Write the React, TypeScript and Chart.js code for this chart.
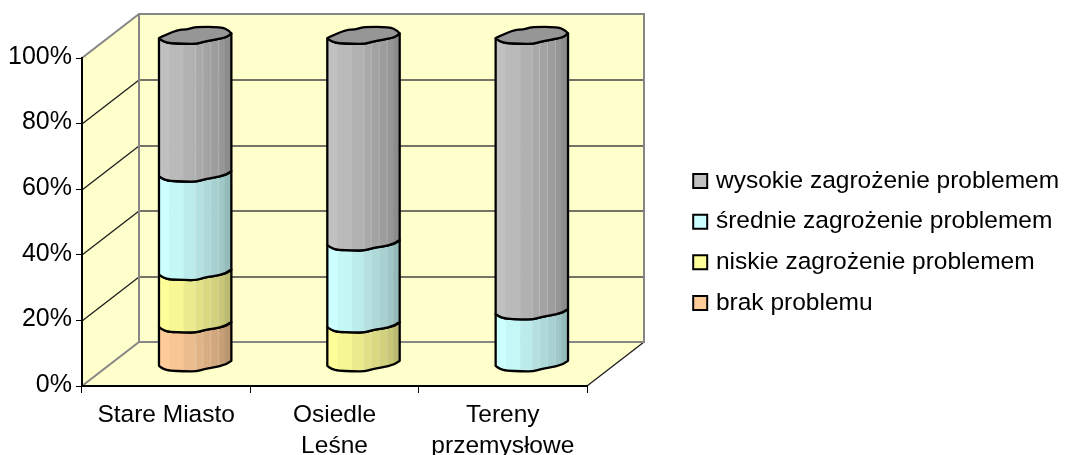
import React, { useEffect, useRef } from "react";
import { Chart, registerables } from "chart.js";

Chart.register(...registerables);

const categories = ["Stare Miasto", ["Osiedle", "Leśne"], ["Tereny", "przemysłowe"]];
const brakProblemu = [12, 0, 0];
const niskie = [16, 12, 0];
const srednie = [30, 25, 16];
const wysokie = [42, 63, 84];

const FONT = "'Liberation Sans', Arial, sans-serif";
const DX = 57;
const DY = -44;
const WALL = "#ffffcc";
const EDGE = "#868686";

// facet layout of the cylinder skin: [end as fraction of the width, brightness]
const FACETS: [number, number][] = [
  [0.14, 1.0], [0.34, 0.97], [0.5, 0.92], [0.6, 0.88],
  [0.71, 0.85], [0.82, 0.82], [0.91, 0.78], [1.0, 0.73],
];
// outline of the cylinder's end, in units of its x radius
const LOWER_ARC: [number, number][] = [
  [-1, 0.064], [-0.88, 0.156], [-0.7, 0.2], [-0.3, 0.215], [0.04, 0.22],
  [0.22, 0.156], [0.5, 0.11], [0.86, 0.037], [1, -0.073],
];
const UPPER_ARC: [number, number][] = [
  [1, -0.073], [0.94, -0.15], [0.72, -0.25], [-0.01, -0.25],
  [-0.24, -0.174], [-0.47, -0.174], [-0.97, 0.037], [-1, 0.064],
];

function trace(ctx: CanvasRenderingContext2D, pts: [number, number][], cx: number, cy: number, rx: number, start: boolean) {
  const P = pts.map(([a, b]) => [cx + a * rx, cy + b * rx]);
  if (start) ctx.moveTo(P[0][0], P[0][1]);
  else ctx.lineTo(P[0][0], P[0][1]);
  for (let i = 1; i < P.length - 1; i++) {
    ctx.quadraticCurveTo(P[i][0], P[i][1], (P[i][0] + P[i + 1][0]) / 2, (P[i][1] + P[i + 1][1]) / 2);
  }
  ctx.lineTo(P[P.length - 1][0], P[P.length - 1][1]);
}

function shade(hex: string, k: number) {
  const n = parseInt(hex.slice(1), 16);
  return `rgb(${Math.round(((n >> 16) & 255) * k)},${Math.round(((n >> 8) & 255) * k)},${Math.round((n & 255) * k)})`;
}

const wallsPlugin = {
  id: "walls",
  beforeDraw(chart: any) {
    const { ctx, chartArea: a, scales } = chart;
    const y = scales.y;
    ctx.save();
    ctx.fillStyle = WALL;
    ctx.beginPath();
    ctx.moveTo(a.left, a.top);
    ctx.lineTo(a.left + DX, a.top + DY);
    ctx.lineTo(a.right + DX, a.top + DY);
    ctx.lineTo(a.right + DX, a.bottom + DY);
    ctx.lineTo(a.right, a.bottom);
    ctx.lineTo(a.left, a.bottom);
    ctx.closePath();
    ctx.fill();

    // grid lines over the side wall and back wall
    ctx.lineWidth = 1.4;
    for (const t of y.ticks) {
      if (t.value === 0 || t.value === 100) continue;
      const py = Math.ceil(y.getPixelForValue(t.value));
      ctx.strokeStyle = "#222222";
      ctx.beginPath();
      ctx.moveTo(a.left, py);
      ctx.lineTo(a.left + DX, py + DY);
      ctx.stroke();
      ctx.strokeStyle = "#444444";
      ctx.beginPath();
      ctx.moveTo(a.left + DX, py + DY);
      ctx.lineTo(a.right + DX, py + DY);
      ctx.stroke();
    }
    // floor's outer edge
    ctx.strokeStyle = "#222222";
    ctx.beginPath();
    ctx.moveTo(a.right + DX, a.bottom + DY);
    ctx.lineTo(a.right, a.bottom);
    ctx.stroke();
    // wall edges
    ctx.strokeStyle = EDGE;
    ctx.lineWidth = 2;
    ctx.beginPath();
    ctx.moveTo(a.left, a.top);
    ctx.lineTo(a.left + DX, a.top + DY);
    ctx.lineTo(a.right + DX, a.top + DY);
    ctx.lineTo(a.right + DX, a.bottom + DY);
    ctx.lineTo(a.left + DX, a.bottom + DY);
    ctx.lineTo(a.left, a.bottom);
    ctx.moveTo(a.left + DX, a.top + DY);
    ctx.lineTo(a.left + DX, a.bottom + DY);
    ctx.stroke();
    ctx.restore();
  },
};

const cylinderPlugin = {
  id: "cylinders",
  beforeDatasetsDraw(chart: any) {
    const { ctx, data } = chart;
    ctx.save();
    ctx.lineJoin = "round";
    ctx.lineCap = "round";
    data.datasets.forEach((ds: any, di: number) => {
      const meta = chart.getDatasetMeta(di);
      meta.data.forEach((bar: any, i: number) => {
        if (!ds.data[i]) return;
        const rx = bar.width / 2;
        const cx = bar.x + DX / 2 + 0.5;
        const topY = bar.y + DY / 2;
        const botY = bar.base + DY / 2;
        const path = () => {
          ctx.beginPath();
          trace(ctx, LOWER_ARC, cx, topY, rx, true);
          const rev = [...LOWER_ARC].reverse();
          trace(ctx, rev, cx, botY, rx, false);
          ctx.closePath();
        };
        ctx.save();
        path();
        ctx.clip();
        let from = 0;
        for (const [to, k] of FACETS) {
          ctx.fillStyle = shade(ds.backgroundColor, k);
          ctx.fillRect(cx - rx + from * bar.width, topY - rx, (to - from) * bar.width + 0.5, botY - topY + 2 * rx);
          if (from >= 0.5 && from <= 0.82) {
            ctx.fillStyle = "rgba(255,255,255,0.22)";
            ctx.fillRect(cx - rx + from * bar.width, topY - rx, 1, botY - topY + 2 * rx);
          }
          from = to;
        }
        ctx.restore();
        ctx.strokeStyle = "#000000";
        ctx.lineWidth = 2.3;
        path();
        ctx.stroke();
        if (Math.abs(bar.y - chart.scales.y.getPixelForValue(100)) < 0.5) {
          ctx.beginPath();
          trace(ctx, LOWER_ARC, cx, topY, rx, true);
          trace(ctx, UPPER_ARC, cx, topY, rx, false);
          ctx.closePath();
          ctx.fillStyle = "#969696";
          ctx.fill();
          ctx.stroke();
        }
      });
    });
    ctx.restore();
    return false;
  },
};

const legendPlacementPlugin = {
  id: "legendPlacement",
  afterLayout(chart: any) {
    const l = chart.legend;
    if (!l) return;
    const w = l.width;
    const h = l.height;
    l.left = 680.5;
    l.right = l.left + w;
    l.top = 152.5;
    l.bottom = l.top + h;
  },
};

export default function App() {
  const ref = useRef<HTMLCanvasElement | null>(null);
  useEffect(() => {
    if (!ref.current) return;
    const chart = new Chart(ref.current, {
      type: "bar",
      data: {
        labels: categories as any,
        datasets: [
          { label: "brak problemu", data: brakProblemu, backgroundColor: "#ffcc99", borderColor: "#000000", borderWidth: 2 },
          { label: "niskie zagrożenie problemem", data: niskie, backgroundColor: "#ffff99", borderColor: "#000000", borderWidth: 2 },
          { label: "średnie zagrożenie problemem", data: srednie, backgroundColor: "#ccffff", borderColor: "#000000", borderWidth: 2 },
          { label: "wysokie zagrożenie problemem", data: wysokie, backgroundColor: "#c0c0c0", borderColor: "#000000", borderWidth: 2 },
        ],
      },
      plugins: [wallsPlugin, cylinderPlugin, legendPlacementPlugin],
      options: {
        animation: false,
        responsive: false,
        devicePixelRatio: 1,
        barPercentage: 1,
        categoryPercentage: 0.43,
        layout: { autoPadding: false, padding: { top: 58, bottom: 0, left: 0, right: 479 } },
        scales: {
          x: {
            stacked: true,
            border: { display: true, color: "#000000", width: 2 },
            grid: { display: true, drawOnChartArea: false, drawTicks: true, tickLength: 7, tickColor: "#000000", tickWidth: 1 },
            ticks: { color: "#000000", maxRotation: 0, autoSkip: false, padding: 7, font: { family: FONT, size: 24.5, lineHeight: 1.25 } },
            afterFit: (s: any) => { s.height = 69; },
          },
          y: {
            stacked: true,
            min: 0,
            max: 100,
            border: { display: true, color: "#000000", width: 2 },
            grid: { display: true, drawOnChartArea: false, drawTicks: true, tickLength: 6, tickColor: "#000000", tickWidth: 1 },
            ticks: { stepSize: 20, color: "#000000", padding: 4, labelOffset: -1, callback: (v: any) => v + "%", font: { family: FONT, size: 25 } },
            afterFit: (s: any) => { s.width = 82; },
          },
        },
        plugins: {
          title: { display: false },
          tooltip: { enabled: false },
          legend: {
            display: true,
            position: "chartArea" as any,
            align: "start",
            reverse: true,
            labels: {
              color: "#000000",
              usePointStyle: true,
              pointStyle: "rect",
              boxWidth: 7,
              boxHeight: 14,
              padding: 16.2,
              font: { family: FONT, size: 24.5 },
            },
          },
        },
      } as any,
    });
    return () => chart.destroy();
  }, []);
  return (
    <div style={{ position: "absolute", left: 0, top: 0, width: 1066, height: 455, overflow: "hidden" }}>
      <canvas ref={ref} width={1066} height={455} style={{ display: "block" }} />
    </div>
  );
}
